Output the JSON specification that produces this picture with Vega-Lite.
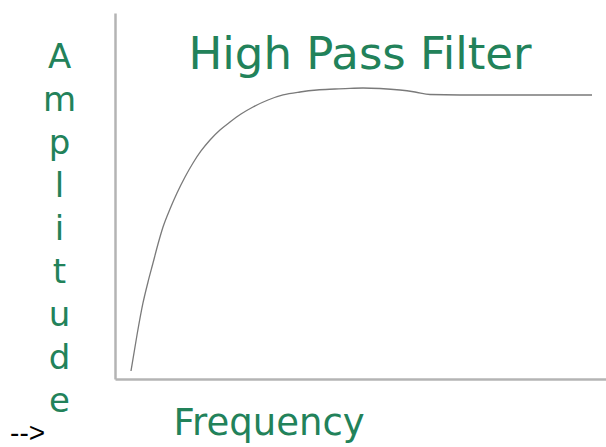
{
  "$schema": "https://vega.github.io/schema/vega-lite/v6.json",
  "width": 491,
  "height": 366,
  "autosize": {"type": "none"},
  "padding": {"left": 115, "top": 13, "right": 0, "bottom": 68},
  "background": "white",
  "config": {"view": {"stroke": null}},
  "layer": [
    {
      "data": {
        "values": [
          {"f": 3.26, "a": 2.19},
          {"f": 4.48, "a": 12.02},
          {"f": 5.70, "a": 20.77},
          {"f": 6.72, "a": 26.50},
          {"f": 7.74, "a": 31.69},
          {"f": 8.76, "a": 36.89},
          {"f": 9.78, "a": 41.53},
          {"f": 11.20, "a": 46.45},
          {"f": 12.63, "a": 50.82},
          {"f": 14.26, "a": 55.19},
          {"f": 15.89, "a": 59.02},
          {"f": 17.52, "a": 62.30},
          {"f": 19.35, "a": 65.30},
          {"f": 21.38, "a": 68.03},
          {"f": 23.42, "a": 70.22},
          {"f": 25.66, "a": 72.40},
          {"f": 28.11, "a": 74.32},
          {"f": 31.16, "a": 76.23},
          {"f": 34.22, "a": 77.60},
          {"f": 37.68, "a": 78.42},
          {"f": 41.14, "a": 78.96},
          {"f": 44.81, "a": 79.23},
          {"f": 47.86, "a": 79.43},
          {"f": 50.51, "a": 79.51},
          {"f": 53.97, "a": 79.37},
          {"f": 58.04, "a": 78.96},
          {"f": 61.10, "a": 78.42},
          {"f": 64.15, "a": 77.73},
          {"f": 70.26, "a": 77.60},
          {"f": 78.41, "a": 77.60},
          {"f": 88.59, "a": 77.60},
          {"f": 97.15, "a": 77.60}
        ]
      },
      "mark": {"type": "line", "interpolate": "monotone", "color": "#7a7a7a", "strokeWidth": 1.3},
      "encoding": {
        "x": {
          "field": "f",
          "type": "quantitative",
          "scale": {"domain": [0, 100], "nice": false, "zero": false},
          "axis": {
            "orient": "bottom",
            "ticks": false,
            "labels": false,
            "grid": false,
            "domainColor": "#b4b4b4",
            "domainWidth": 2.5,
            "title": "Frequency",
            "titleFont": "DejaVu Sans",
            "titleFontSize": 37,
            "titleFontWeight": "normal",
            "titleColor": "#22825a",
            "titleAlign": "left",
            "titleAnchor": "start",
            "titleBaseline": "alphabetic",
            "titleX": 58,
            "titleY": 55
          }
        },
        "y": {
          "field": "a",
          "type": "quantitative",
          "scale": {"domain": [0, 100], "nice": false, "zero": false},
          "axis": {
            "orient": "left",
            "ticks": false,
            "labels": false,
            "grid": false,
            "domainColor": "#b4b4b4",
            "domainWidth": 2.5,
            "title": ["A", "m", "p", "l", "i", "t", "u", "d", "e"],
            "titleFont": "DejaVu Sans",
            "titleFontSize": 34,
            "titleFontWeight": "normal",
            "titleColor": "#22825a",
            "titleAngle": 0,
            "titleAlign": "center",
            "titleBaseline": "top",
            "titleLineHeight": 43,
            "titleX": -56,
            "titleY": 27
          }
        }
      }
    },
    {
      "data": {"values": [{"f": 49.9, "a": 84.7, "note": "High Pass Filter"}]},
      "mark": {"type": "text", "font": "DejaVu Sans", "fontSize": 45, "color": "#22825a", "align": "center", "baseline": "alphabetic", "clip": false},
      "encoding": {
        "x": {"field": "f", "type": "quantitative"},
        "y": {"field": "a", "type": "quantitative"},
        "text": {"field": "note"}
      }
    },
    {
      "data": {"values": [{"f": -17.8, "a": -17.2, "note": "-->"}]},
      "mark": {"type": "text", "font": "Liberation Sans", "fontSize": 28, "color": "#000000", "align": "center", "baseline": "alphabetic", "clip": false},
      "encoding": {
        "x": {"field": "f", "type": "quantitative"},
        "y": {"field": "a", "type": "quantitative"},
        "text": {"field": "note"}
      }
    }
  ]
}
